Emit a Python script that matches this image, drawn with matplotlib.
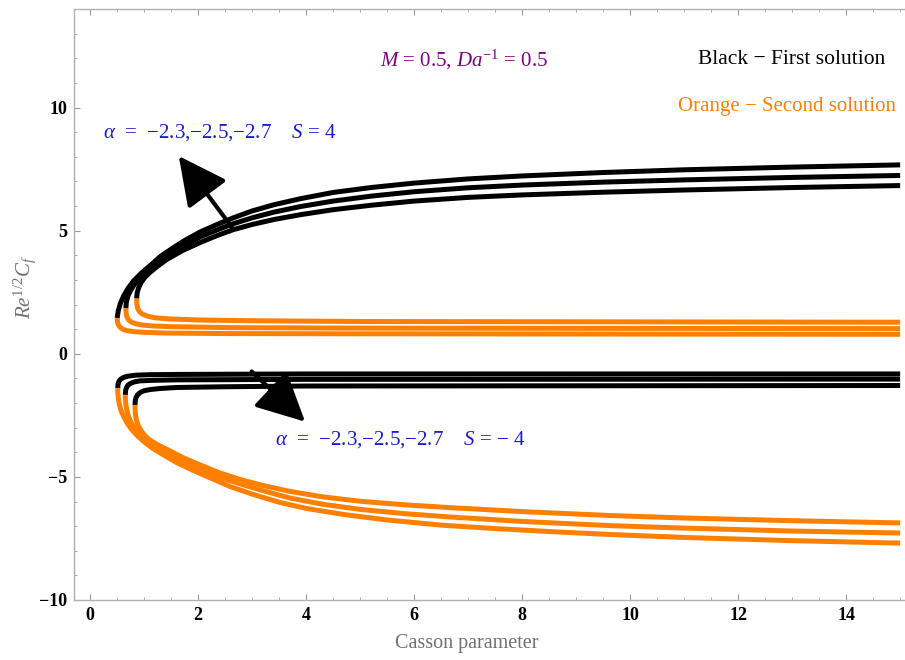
import numpy as np
import matplotlib
matplotlib.use("Agg")
import matplotlib.pyplot as plt
from matplotlib.ticker import MultipleLocator

plt.rcParams['font.family'] = ['Liberation Serif', 'DejaVu Serif']
plt.rcParams['mathtext.fontset'] = 'custom'
plt.rcParams['mathtext.rm'] = 'Liberation Serif'
plt.rcParams['mathtext.it'] = 'Liberation Serif:italic'
plt.rcParams['mathtext.bf'] = 'Liberation Serif:bold'

# S = 4, first solution (black), alpha = -2.3, -2.5, -2.7 (outer -> inner)
up_black_x1 = [0.50, 0.52, 0.56, 0.62, 0.70, 0.80, 0.95, 1.11, 1.30, 1.50, 1.75, 2.04, 2.35, 2.65, 3.0, 3.4, 3.9,
               4.5, 5.2, 6.0, 7.0, 8.0, 9.5, 11.0, 13.0, 15.0]
up_black_y1 = [1.45, 1.75, 2.05, 2.35, 2.65, 2.95, 3.28, 3.58, 3.95, 4.25, 4.60, 4.95, 5.25, 5.52, 5.80, 6.05, 6.30,
               6.55, 6.75, 6.93, 7.10, 7.22, 7.36, 7.47, 7.58, 7.67]
up_black_x2 = [0.66, 0.67, 0.70, 0.75, 0.82, 0.92, 1.05, 1.20, 1.40, 1.70, 2.04, 2.35, 2.65, 3.0, 3.4, 3.9,
               4.5, 5.2, 6.0, 7.0, 8.0, 9.5, 11.0, 13.0, 15.0]
up_black_y2 = [1.84, 2.10, 2.35, 2.58, 2.82, 3.08, 3.35, 3.63, 3.95, 4.35, 4.75, 5.03, 5.28, 5.52, 5.75, 5.98,
               6.20, 6.40, 6.58, 6.74, 6.85, 6.97, 7.06, 7.16, 7.24]
up_black_x3 = [0.86, 0.87, 0.90, 0.95, 1.02, 1.12, 1.25, 1.42, 1.70, 2.04, 2.35, 2.65, 3.0, 3.4, 3.9,
               4.5, 5.2, 6.0, 7.0, 8.0, 9.5, 11.0, 13.0, 15.0]
up_black_y3 = [2.24, 2.48, 2.70, 2.92, 3.12, 3.33, 3.56, 3.83, 4.18, 4.52, 4.80, 5.04, 5.25, 5.45, 5.65,
               5.85, 6.03, 6.20, 6.35, 6.45, 6.56, 6.65, 6.75, 6.83]

# S = 4, second solution (orange)
up_orange_x1 = [0.50, 0.505, 0.52, 0.55, 0.60, 0.68, 0.80, 1.00, 1.40, 2.5, 5.0, 15.0]
up_orange_y1 = [1.45, 1.30, 1.18, 1.08, 1.00, 0.94, 0.90, 0.87, 0.84, 0.82, 0.81, 0.79]
up_orange_x2 = [0.66, 0.665, 0.68, 0.71, 0.76, 0.84, 0.95, 1.15, 1.50, 2.6, 5.0, 15.0]
up_orange_y2 = [1.84, 1.65, 1.50, 1.38, 1.29, 1.22, 1.17, 1.13, 1.10, 1.06, 1.04, 1.02]
up_orange_x3 = [0.86, 0.865, 0.88, 0.91, 0.96, 1.05, 1.20, 1.50, 2.04, 3.0, 5.0, 15.0]
up_orange_y3 = [2.24, 2.00, 1.84, 1.72, 1.62, 1.53, 1.46, 1.41, 1.37, 1.34, 1.31, 1.28]

# S = -4, first solution (black)
lo_black_x1 = [0.51, 0.515, 0.53, 0.56, 0.62, 0.70, 0.85, 1.10, 1.60, 4.0, 15.0]
lo_black_y1 = [-1.40, -1.25, -1.13, -1.04, -0.96, -0.91, -0.87, -0.85, -0.84, -0.82, -0.82]
lo_black_x2 = [0.65, 0.655, 0.67, 0.70, 0.75, 0.82, 0.93, 1.15, 1.60, 4.0, 15.0]
lo_black_y2 = [-1.67, -1.50, -1.38, -1.28, -1.20, -1.14, -1.10, -1.08, -1.06, -1.04, -1.03]
lo_black_x3 = [0.83, 0.835, 0.85, 0.88, 0.93, 1.00, 1.12, 1.30, 1.60, 2.5, 4.0, 15.0]
lo_black_y3 = [-2.08, -1.90, -1.77, -1.66, -1.57, -1.50, -1.45, -1.41, -1.37, -1.34, -1.31, -1.29]

# S = -4, second solution (orange)
lo_orange_x1 = [0.51, 0.512, 0.52, 0.54, 0.57, 0.62, 0.68, 0.76, 0.86, 1.00, 1.15, 1.35, 1.60, 1.90, 2.20,
                2.60, 3.0, 3.5, 4.0, 4.7, 5.5, 6.5, 7.5, 8.5, 9.63, 11.0, 13.0, 15.0]
lo_orange_y1 = [-1.40, -1.60, -1.80, -2.05, -2.30, -2.55, -2.80, -3.05, -3.30, -3.58, -3.83, -4.10, -4.42, -4.73,
                -5.02, -5.40, -5.70, -6.03, -6.28, -6.53, -6.75, -6.96, -7.10, -7.22, -7.34, -7.46, -7.59, -7.69]
lo_orange_x2 = [0.65, 0.652, 0.66, 0.68, 0.71, 0.76, 0.83, 0.92, 1.04, 1.20, 1.42, 1.70, 2.04, 2.40, 2.80,
                3.2, 3.7, 4.3, 5.0, 5.8, 6.67, 8.0, 9.63, 11.0, 13.0, 15.0]
lo_orange_y2 = [-1.67, -1.85, -2.05, -2.30, -2.55, -2.80, -3.05, -3.30, -3.55, -3.80, -4.05, -4.38, -4.70,
                -5.02, -5.30, -5.56, -5.86, -6.11, -6.32, -6.49, -6.63, -6.81, -6.98, -7.08, -7.20, -7.28]
lo_orange_x3 = [0.83, 0.832, 0.84, 0.86, 0.89, 0.94, 1.01, 1.10, 1.25, 1.42, 1.70, 2.04, 2.40, 2.80, 3.2,
                3.7, 4.3, 5.0, 5.8, 6.67, 8.0, 9.63, 11.0, 13.0, 15.0]
lo_orange_y3 = [-2.08, -2.30, -2.50, -2.72, -2.92, -3.12, -3.32, -3.50, -3.70, -3.88, -4.20, -4.52, -4.84,
                -5.12, -5.35, -5.59, -5.81, -5.99, -6.13, -6.25, -6.41, -6.57, -6.67, -6.78, -6.87]

black_curves = [(up_black_x1, up_black_y1), (up_black_x2, up_black_y2), (up_black_x3, up_black_y3),
                (lo_black_x1, lo_black_y1), (lo_black_x2, lo_black_y2), (lo_black_x3, lo_black_y3)]
orange_curves = [(up_orange_x1, up_orange_y1), (up_orange_x2, up_orange_y2), (up_orange_x3, up_orange_y3),
                 (lo_orange_x1, lo_orange_y1), (lo_orange_x2, lo_orange_y2), (lo_orange_x3, lo_orange_y3)]

orange = '#FF8000'
gray = '#9a9a9a'
MINUS = '\u2212'

fig = plt.figure(figsize=(9.05, 6.6), dpi=100)
ax = fig.add_axes([74 / 905, 60 / 660, 831 / 905, 591 / 660])

for x, y in black_curves:
    ax.plot(x, y, color='black', lw=3.6, solid_capstyle='butt', solid_joinstyle='round', zorder=3)
for x, y in orange_curves:
    ax.plot(x, y, color=orange, lw=3.6, solid_capstyle='butt', solid_joinstyle='round', zorder=3)

ax.set_xlim(-0.3, 15.09)
ax.set_ylim(-10, 14.0)

ax.xaxis.set_minor_locator(MultipleLocator(0.5))
ax.yaxis.set_minor_locator(MultipleLocator(1))
ax.tick_params(which='both', direction='in', color=gray, top=True, right=False)
ax.tick_params(which='major', length=4.5, width=0.8, labelsize=13, pad=5)
ax.tick_params(which='minor', length=2.5, width=0.6)
ax.set_yticks([-10, -5, 0, 5, 10])
ax.set_yticklabels([MINUS + '10', MINUS + '5', '0', '5', '10'], fontweight='bold')
ax.set_xticks([0, 2, 4, 6, 8, 10, 12, 14])
ax.set_xticklabels(['0', '2', '4', '6', '8', '10', '12', '14'], fontweight='bold')

for side in ['left', 'bottom', 'top']:
    ax.spines[side].set_color('#b0b0b0')
    ax.spines[side].set_linewidth(1.0)
ax.spines['right'].set_visible(False)

ax.set_xlabel('Casson parameter', color='#707070', fontsize=14.5, va='top')
ax.xaxis.set_label_coords((467 - 74) / 831, -(634 - 600) / 591)
ax.set_ylabel(r'$Re^{1/2}C_f$', color='#707070', fontsize=15)
ax.yaxis.set_label_coords(-0.043, 0.53)

fig.text(380 / 905, 1 - 60 / 660, r'$M$ = 0.5, $Da^{-1}$ = 0.5',
         color='#800080', fontsize=15, va='center', ha='left')
fig.text(698 / 905, 1 - 60 / 660, 'Black ' + MINUS + ' First solution',
         color='black', fontsize=15.5, va='center', ha='left')
fig.text(678 / 905, 1 - 107 / 660, 'Orange ' + MINUS + ' Second solution',
         color=orange, fontsize=15, va='center', ha='left')

blue = '#1a1ad0'
alpha_txt = r'$\alpha$  =  ' + MINUS + '2.3,' + MINUS + '2.5,' + MINUS + '2.7    '
ax.text(0.24, 8.98, alpha_txt + r'$S$ = 4', color=blue, fontsize=15, va='center', ha='left')
ax.text(3.43, -3.5, alpha_txt + r'$S$ = ' + MINUS + ' 4', color=blue, fontsize=15, va='center', ha='left')

arrow = dict(arrowstyle='-|>,head_length=1.5,head_width=0.75', color='black', lw=3,
             mutation_scale=20, shrinkA=0, shrinkB=0)
ax.annotate('', xy=(1.64, 8.03), xytext=(2.65, 5.06), arrowprops=arrow, zorder=4)
ax.annotate('', xy=(3.98, -2.76), xytext=(2.99, -0.72), arrowprops=arrow, zorder=4)

plt.savefig('out.png', dpi=100)
